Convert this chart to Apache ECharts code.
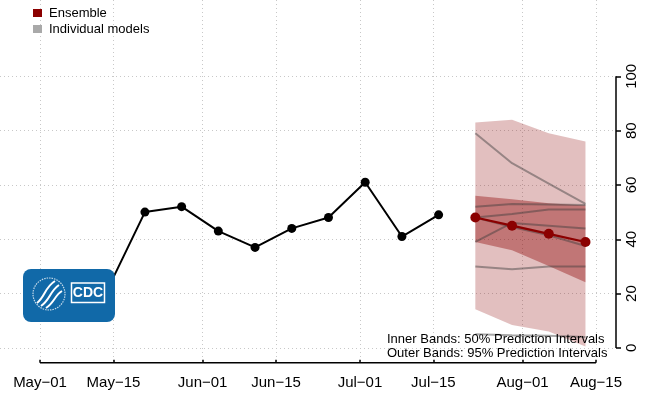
<!DOCTYPE html>
<html><head><meta charset="utf-8">
<script src="https://cdn.jsdelivr.net/npm/echarts@6/dist/echarts.min.js"></script>
<style>html,body{margin:0;padding:0;background:#fff}#c{width:645px;height:397px}</style>
</head><body><div id="c"></div>
<script>
// ---- data ----
const xTickDates = ['2021-05-01','2021-05-15','2021-06-01','2021-06-15','2021-07-01','2021-07-15','2021-08-01','2021-08-15'];
const xTickLabels = ['May\u221201','May\u221215','Jun\u221201','Jun\u221215','Jul\u221201','Jul\u221215','Aug\u221201','Aug\u221215'];
const yTicks = [0, 20, 40, 60, 80, 100];

const obsDates = ['2021-05-14','2021-05-21','2021-05-28','2021-06-04','2021-06-11','2021-06-18','2021-06-25','2021-07-02','2021-07-09','2021-07-16'];
const obsValues = [22, 50, 52, 43, 37, 44, 48, 61, 41, 49];

const fcDates = ['2021-07-23','2021-07-30','2021-08-06','2021-08-13'];
const ensemble = [48, 45, 42, 39];
const lower50 = [39, 36, 30.2, 24.2];
const upper50 = [56, 54.7, 53.3, 52.4];
const lower95 = [14.2, 8.4, 6, 0.5];
const upper95 = [83, 84, 79, 76];

const model1 = [79, 68, 60.5, 53];
const model2 = [52, 53, 52.8, 52.6];
const model3 = [48, 49.3, 51, 51];
const model4 = [39, 46, 45, 44];
const model5 = [48, 44.5, 41.5, 37.5];
const model6 = [30, 29, 30, 30];
const model7 = [5, 4.7, 4.5, 4];

// ---- helpers ----
const BASE = Date.parse('2021-05-01');
const day = s => (Date.parse(s) - BASE) / 86400000;
const xTickVals = xTickDates.map(day);
const fcX = fcDates.map(day);
const pts = (xs, ys) => xs.map((x, i) => [x, ys[i]]);

const X_MIN = -7.63, X_MAX = 109.82, Y_MIN = -5.45, Y_MAX = 128.1;
const FONT = '"Liberation Sans", Arial, sans-serif';
const DARKRED = '#8B0000';
const MODEL_COLOR = 'rgba(60,60,60,0.45)';

const modelSeries = [model1, model2, model3, model4, model5, model6, model7].map((m, i) => ({
  name: i === 0 ? 'Individual models' : 'model' + (i + 1),
  type: 'line', data: pts(fcX, m), symbol: 'none', z: 4,
  lineStyle: { color: MODEL_COLOR, width: 2 }, itemStyle: { color: MODEL_COLOR },
  silent: true, animation: false
}));

// prediction band drawn as one polygon through the axes' coordinate system
const band = (lo, hi, color) => ({
  type: 'custom', z: 2, silent: true, animation: false,
  data: fcX.map((x, i) => [x, lo[i], hi[i]]),
  encode: { x: 0, y: [1, 2] },
  renderItem: (params, api) => {
    if (params.dataIndex !== 0) return null;
    const top = fcX.map((x, i) => api.coord([x, hi[i]]));
    const bot = fcX.map((x, i) => api.coord([x, lo[i]])).reverse();
    return { type: 'polygon', shape: { points: top.concat(bot) }, style: { fill: color } };
  }
});

const chart = echarts.init(document.getElementById('c'));
chart.setOption({
  animation: false,
  backgroundColor: '#fff',
  grid: { left: 0, right: 29, top: 0, bottom: 34.3, containLabel: false },
  legend: {
    orient: 'vertical', left: 28, top: 0, itemGap: 0, itemWidth: 9, itemHeight: 8,
    selectedMode: false, icon: 'rect',
    textStyle: { fontFamily: FONT, fontSize: 13, color: '#000', lineHeight: 16, padding: [0, 0, 0, 2] },
    data: [
      { name: 'Ensemble', itemStyle: { color: DARKRED } },
      { name: 'Individual models', itemStyle: { color: '#A9A9A9' } }
    ]
  },
  xAxis: {
    type: 'value', min: X_MIN, max: X_MAX,
    axisLine: { show: false, onZero: false },
    axisTick: { show: true, customValues: xTickVals, inside: true, length: 3, lineStyle: { color: '#000', width: 1.5 } },
    axisLabel: {
      show: true, customValues: xTickVals, margin: 13,
      formatter: v => { const i = xTickVals.findIndex(t => Math.abs(t - v) < 1e-6); return i >= 0 ? xTickLabels[i] : ''; },
      fontFamily: FONT, fontSize: 15, color: '#000'
    },
    splitLine: { show: true, lineStyle: { color: '#c8c8c8', width: 1, type: [1, 3] } }
  },
  yAxis: {
    type: 'value', position: 'right', min: Y_MIN, max: Y_MAX,
    axisLine: { show: false, onZero: false },
    axisTick: { show: true, customValues: yTicks, length: 5, lineStyle: { color: '#000', width: 1.5 } },
    axisLabel: { show: true, customValues: yTicks, rotate: 90, margin: 8, fontFamily: FONT, fontSize: 15, color: '#000' },
    splitLine: { show: true, lineStyle: { color: '#c8c8c8', width: 1, type: [1, 3] } }
  },
  series: [
    // axis lines (R style, spanning tick range only)
    { type: 'line', data: [[xTickVals[0], Y_MIN], [xTickVals[xTickVals.length - 1], Y_MIN]], symbol: 'none', clip: false,
      lineStyle: { color: '#000', width: 1.5 }, silent: true, z: 10 },
    { type: 'line', data: [[X_MAX, yTicks[0]], [X_MAX, yTicks[yTicks.length - 1]]], symbol: 'none', clip: false,
      lineStyle: { color: '#000', width: 1.5 }, silent: true, z: 10 },
    // observed
    { type: 'line', data: pts(obsDates.map(day), obsValues), symbol: 'circle', symbolSize: 9,
      lineStyle: { color: '#000', width: 2 }, itemStyle: { color: '#000' }, z: 3 },
    band(lower95, upper95, 'rgba(139,0,0,0.25)'),
    band(lower50, upper50, 'rgba(139,0,0,0.38)'),
    ...modelSeries,
    { name: 'Ensemble', type: 'line', data: pts(fcX, ensemble), symbol: 'circle', symbolSize: 10,
      lineStyle: { color: DARKRED, width: 2.2 }, itemStyle: { color: DARKRED }, z: 6 }
  ],
  graphic: [
    { type: 'text', left: 387, top: 333, z: 20, style: { text: 'Inner Bands: 50% Prediction Intervals', font: '13px ' + FONT, fill: '#000' } },
    { type: 'text', left: 387, top: 347, z: 20, style: { text: 'Outer Bands: 95% Prediction Intervals', font: '13px ' + FONT, fill: '#000' } },
    { type: 'group', left: 23, top: 269, zlevel: 1, z: 30, children: [
      { type: 'rect', z: 30, shape: { x: 0, y: 0, width: 92, height: 53, r: 8 }, style: { fill: '#1169a8' } },
      { type: 'circle', z: 31, shape: { cx: 26, cy: 25, r: 16 }, style: { fill: 'none', stroke: 'rgba(255,255,255,0.75)', lineWidth: 1.2, lineDash: [1.5, 1] } },
      { type: 'bezierCurve', z: 31, shape: { x1: 32, y1: 12, cpx1: 22, cpy1: 18, cpx2: 22, cpy2: 28, x2: 14, y2: 34 }, style: { stroke: '#fff', lineWidth: 2, fill: 'none' } },
      { type: 'bezierCurve', z: 31, shape: { x1: 36, y1: 16, cpx1: 27, cpy1: 22, cpx2: 27, cpy2: 31, x2: 18, y2: 37 }, style: { stroke: '#fff', lineWidth: 2, fill: 'none' } },
      { type: 'bezierCurve', z: 31, shape: { x1: 39, y1: 22, cpx1: 32, cpy1: 26, cpx2: 31, cpy2: 34, x2: 23, y2: 39 }, style: { stroke: '#fff', lineWidth: 2, fill: 'none' } },
      { type: 'rect', z: 31, shape: { x: 48.5, y: 14, width: 33, height: 19.5 }, style: { fill: 'none', stroke: '#fff', lineWidth: 1.5 } },
      { type: 'text', z: 31, style: { text: 'CDC', x: 65, y: 24, font: 'bold 14px ' + FONT, fill: '#fff', align: 'center', verticalAlign: 'middle' } }
    ]}
  ]
});
</script>
</body></html>
